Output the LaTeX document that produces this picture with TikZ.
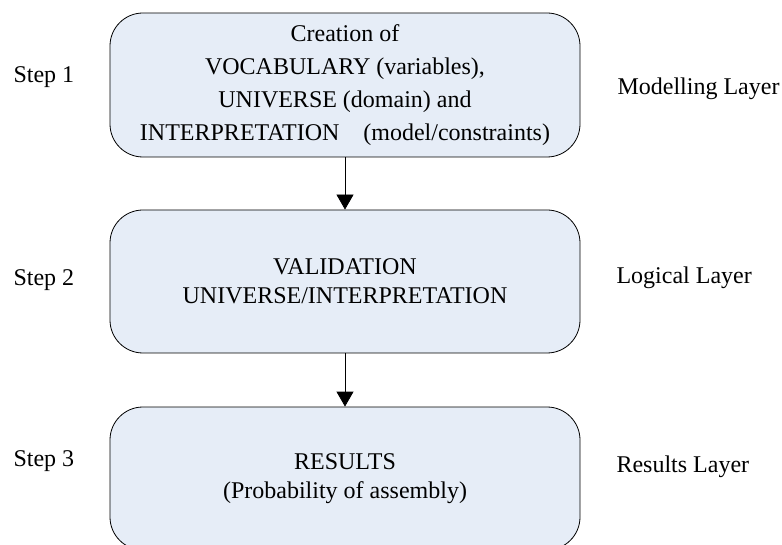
\documentclass[tikz,border=0pt]{standalone}
\usepackage{fontspec}
\setmainfont{Liberation Serif}
\usepackage{tikz}
\usetikzlibrary{arrows.meta}

\definecolor{boxfill}{RGB}{230,237,247}

\begin{document}
\begin{tikzpicture}[x=1pt, y=-1pt,
    every node/.style={font=\fontsize{24}{29}\selectfont},
    layerbox/.style={draw=black, line width=0.8pt, fill=boxfill, rounded corners=33pt,
        minimum width=470pt, minimum height=144pt, align=center, inner sep=0pt},
    flow/.style={line width=0.8pt, -{Triangle[length=15pt, width=17pt]}}]
    \useasboundingbox (0,0) rectangle (782,545);
    \clip (0,0) rectangle (782,545);
    % --- Boxes ---
    \node[layerbox, font=\fontsize{24}{33}\selectfont] (creation) at (345,85) {Creation of\\VOCABULARY (variables),\\UNIVERSE (domain) and\\INTERPRETATION\quad(model/constraints)};
    \node[layerbox, minimum height=143pt] (validation) at (345,281.5) {VALIDATION\\UNIVERSE/INTERPRETATION};
    \node[layerbox, minimum height=143pt] (results) at (345,478.5) {RESULTS\\(Probability of assembly)};
    % --- Arrows ---
    \draw[flow] (creation) -- (validation);
    \draw[flow] (validation) -- (results);
    % --- Steps ---
    \node[anchor=west] (step1) at (10,77) {Step 1};
    \node[anchor=west] (step2) at (10,280) {Step 2};
    \node[anchor=west] (step3) at (10,461) {Step 3};
    % --- Layers ---
    \node[anchor=west] (modlayer) at (614,89) {Modelling Layer};
    \node[anchor=west] (loglayer) at (613,278) {Logical Layer};
    \node[anchor=west] (reslayer) at (613,467) {Results Layer};
\end{tikzpicture}
\end{document}
